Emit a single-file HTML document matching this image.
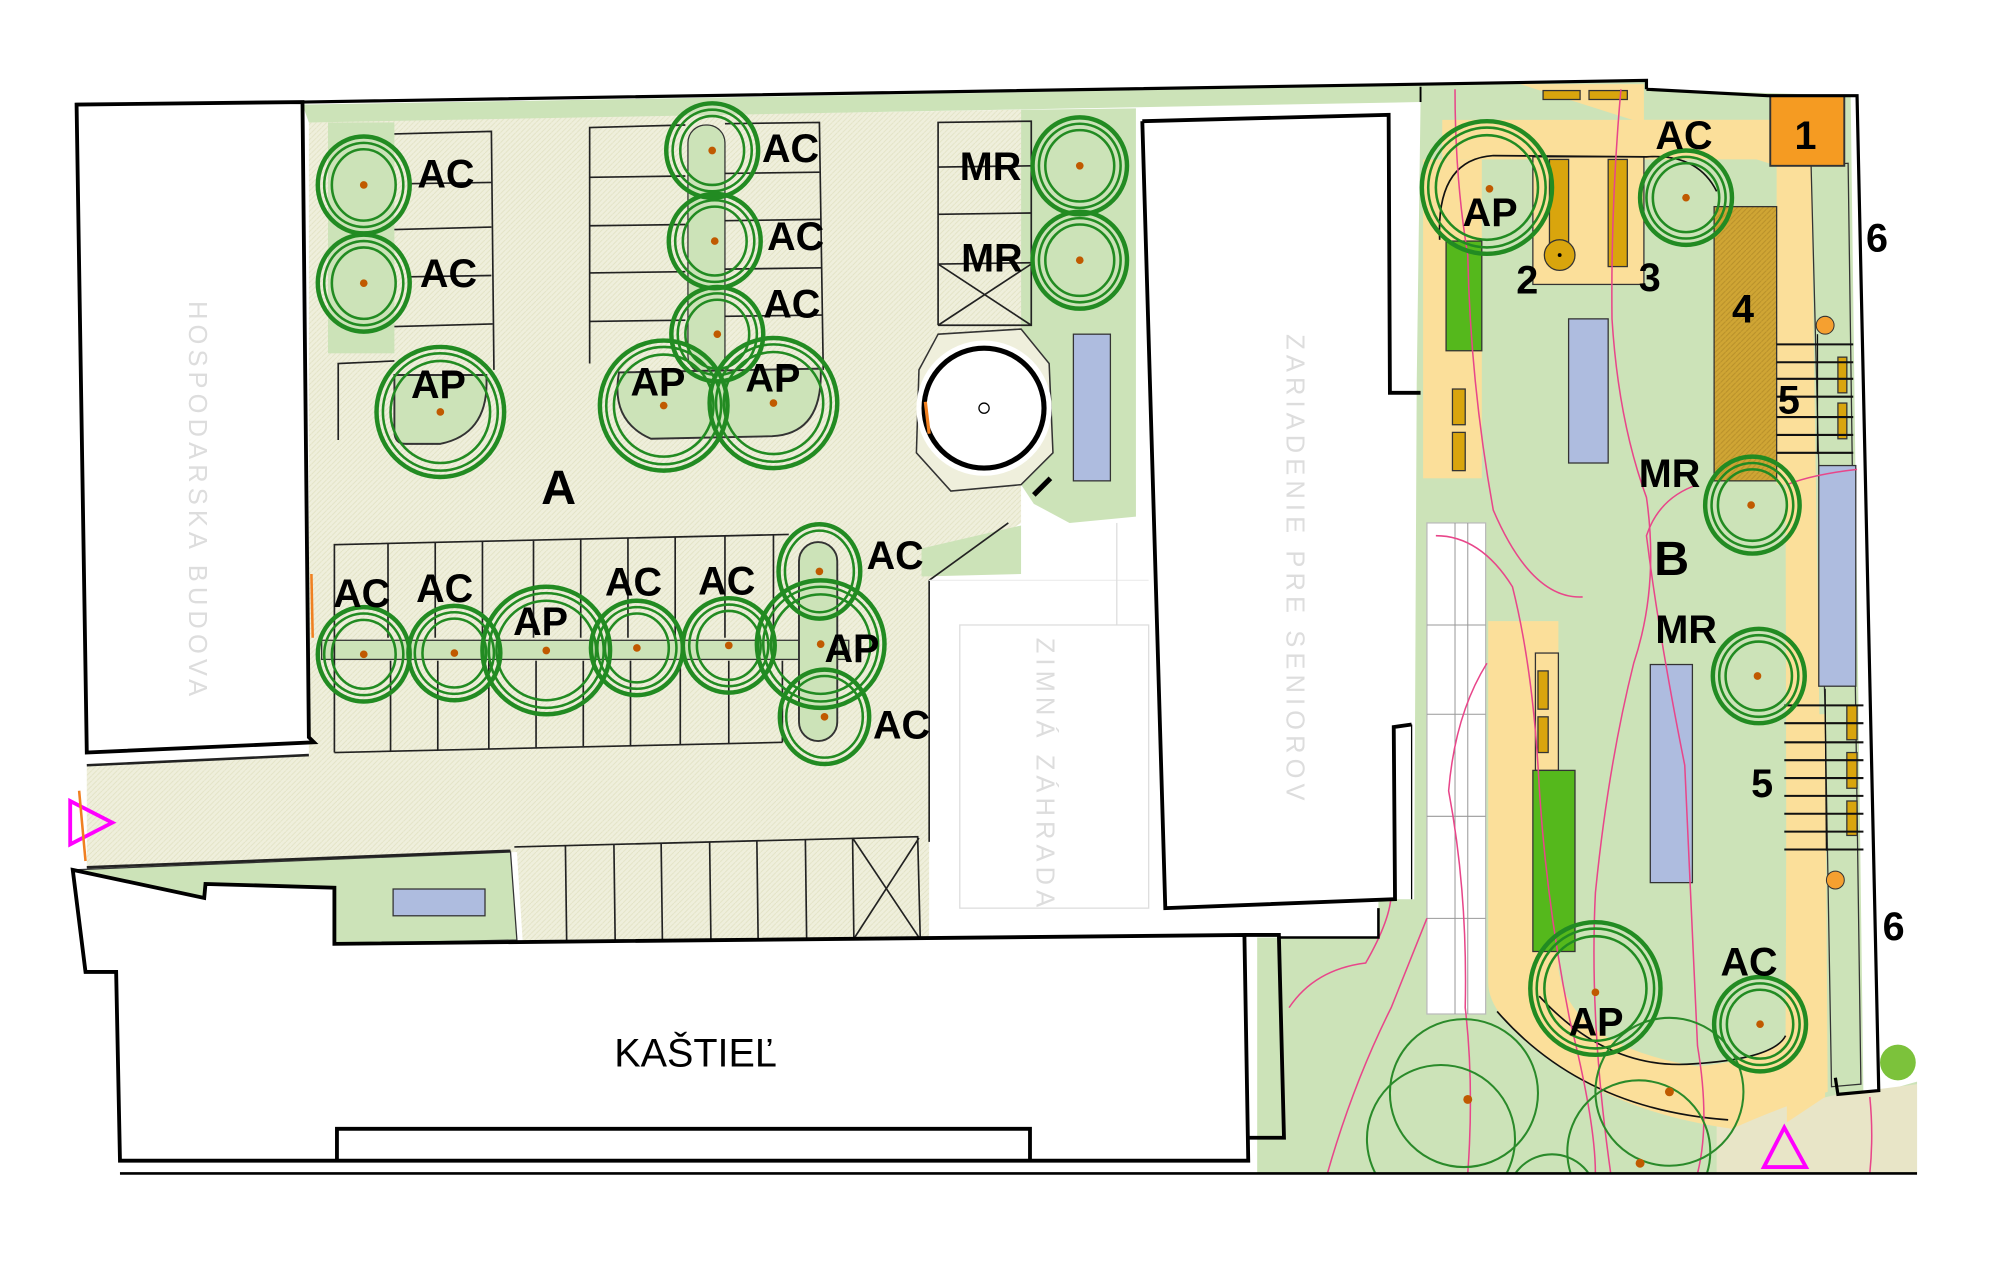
<!DOCTYPE html>
<html><head><meta charset="utf-8"><style>
html,body{margin:0;padding:0;background:#fff;}
svg{display:block;}
.l{font-family:"Liberation Sans",sans-serif;font-weight:bold;font-size:31px;fill:#000;}
.g{font-family:"Liberation Sans",sans-serif;font-size:20px;fill:#ddd;letter-spacing:4px;}
</style></head><body>
<svg width="2000" height="1264" viewBox="0 0 1567 991" preserveAspectRatio="none" xmlns="http://www.w3.org/2000/svg">
<defs>
<pattern id="hb" width="4" height="4" patternUnits="userSpaceOnUse"><rect width="4" height="4" fill="#efefdc"/><path d="M0 4L4 0" stroke="#e2e2c4" stroke-width="0.7"/></pattern>
<pattern id="br" width="4" height="4" patternUnits="userSpaceOnUse"><rect width="4" height="4" fill="#cfa534"/><path d="M0 4L4 0" stroke="#b8902a" stroke-width="0.8"/></pattern>
<clipPath id="cb"><rect x="0" y="0" width="1550" height="920"/></clipPath>
</defs>

<polygon points="68,600 242,592 242,95 800,86 800,410 728,455 728,745 410,745 405,668 68,680" fill="url(#hb)"/>
<polygon points="237,82 1113,67 1113,80 242,96" fill="#cce3b8"/>
<polygon points="800,86 890,85 890,405 838,410 810,395 800,380" fill="#cce3b8"/>
<polygon points="722,430 800,412 800,450 722,452" fill="#cce3b8"/>
<polygon points="57,682 400,668 405,737 262,740 262,696 161,693 160,704" fill="#cce3b8" stroke="#333" stroke-width="1"/>
<rect x="308" y="697" width="72" height="21" fill="#aebcdf" stroke="#333" stroke-width="1"/>
<rect x="257" y="96" width="52" height="181" fill="#cce3b8"/>
<rect x="539" y="98" width="29" height="195" rx="14" fill="#cce3b8" stroke="#333" stroke-width="1"/>
<path d="M309,294 L381,294 Q384,340 345,348 L318,348 Q309,348 309,338 Z" fill="#cce3b8" stroke="#333" stroke-width="1.5"/>
<path d="M485,292 L643,289 Q645,340 605,342 L510,344 Q478,330 485,292 Z" fill="#cce3b8" stroke="#333" stroke-width="1.5"/>
<rect x="252" y="502" width="413" height="15" fill="#cce3b8" stroke="#333" stroke-width="1"/>
<rect x="626" y="425" width="30" height="156" rx="15" fill="#cce3b8" stroke="#333" stroke-width="1.5"/>

<g stroke="#222" stroke-width="1.3" fill="none">
<polyline points="309,105 385,103 387,290"/>
<line x1="309" y1="180" x2="385" y2="178"/><line x1="309" y1="256" x2="386" y2="254"/>
<line x1="320" y1="144" x2="385" y2="143"/><line x1="320" y1="217" x2="385" y2="216"/>
<polyline points="462,285 462,100 537,98"/>
<line x1="462" y1="139" x2="537" y2="138"/><line x1="462" y1="177" x2="537" y2="176"/><line x1="462" y1="214" x2="537" y2="213"/><line x1="462" y1="252" x2="537" y2="251"/>
<polyline points="568,97 642,96 645,290"/>
<line x1="568" y1="136" x2="642" y2="135"/><line x1="568" y1="173" x2="643" y2="172"/><line x1="568" y1="211" x2="644" y2="210"/><line x1="568" y1="248" x2="644" y2="247"/>
<polyline points="735,255 735,96 808,95 808,255 735,255"/>
<line x1="735" y1="131" x2="808" y2="130"/><line x1="735" y1="168" x2="808" y2="167"/><line x1="735" y1="207" x2="808" y2="206"/>
<line x1="735" y1="207" x2="808" y2="255"/><line x1="808" y1="207" x2="735" y2="255"/>
<polyline points="265,345 265,285 309,283"/>
<polyline points="262,590 262,427 618,419"/>
<line x1="262" y1="590" x2="613" y2="582"/>
<line x1="304" y1="426" x2="304" y2="500"/><line x1="341" y1="425" x2="341" y2="500"/><line x1="378" y1="424" x2="378" y2="500"/><line x1="418" y1="424" x2="418" y2="500"/><line x1="455" y1="423" x2="455" y2="500"/><line x1="492" y1="422" x2="492" y2="500"/><line x1="529" y1="421" x2="529" y2="500"/><line x1="568" y1="420" x2="568" y2="500"/><line x1="606" y1="419" x2="606" y2="500"/>
<line x1="306" y1="518" x2="306" y2="589"/><line x1="343" y1="518" x2="343" y2="588"/><line x1="383" y1="518" x2="383" y2="587"/><line x1="420" y1="518" x2="420" y2="586"/><line x1="457" y1="518" x2="457" y2="585"/><line x1="494" y1="518" x2="494" y2="585"/><line x1="533" y1="518" x2="533" y2="584"/><line x1="571" y1="518" x2="571" y2="583"/><line x1="613" y1="518" x2="613" y2="582"/>
<polyline points="403,664 719,656 721,735 405,740"/>
<line x1="443" y1="663" x2="444" y2="739"/><line x1="481" y1="662" x2="482" y2="739"/><line x1="518" y1="661" x2="519" y2="738"/><line x1="556" y1="660" x2="557" y2="737"/><line x1="593" y1="659" x2="594" y2="737"/><line x1="631" y1="658" x2="632" y2="736"/><line x1="668" y1="657" x2="669" y2="736"/>
<line x1="668" y1="657" x2="720" y2="735"/><line x1="720" y1="657" x2="669" y2="736"/>
<line x1="68" y1="600" x2="242" y2="592" stroke-width="2"/>
<line x1="68" y1="680" x2="400" y2="667" stroke-width="2"/>
<line x1="728" y1="455" x2="728" y2="660"/>
<line x1="728" y1="455" x2="790" y2="410"/>
</g>

<polygon points="735,262 800,258 822,285 825,355 800,380 745,385 718,355 720,290" fill="#efefdc" stroke="#333" stroke-width="1.2"/>
<circle cx="771" cy="320" r="53" fill="#fff"/>
<circle cx="771" cy="320" r="47" fill="#fff" stroke="#000" stroke-width="4"/>
<circle cx="771" cy="320" r="4" fill="#fff" stroke="#000" stroke-width="1"/>
<line x1="725" y1="315" x2="728" y2="340" stroke="#f08020" stroke-width="2.5"/>
<line x1="810" y1="388" x2="823" y2="375" stroke="#000" stroke-width="4"/>
<rect x="841" y="262" width="29" height="115" fill="#aebcdf" stroke="#333" stroke-width="1"/>

<rect x="752" y="490" width="148" height="222" fill="#fff" stroke="#ddd" stroke-width="1"/>
<line x1="728" y1="455" x2="900" y2="455" stroke="#eee"/>
<line x1="875" y1="410" x2="875" y2="490" stroke="#ddd"/>
<text class="g" transform="translate(812,500) rotate(90)">ZIMNÁ ZÁHRADA</text>

<polygon points="1113,67 1290,63 1290,70 1450,75 1460,860 1502,848 1502,920 985,920 985,735 1080,735 1080,705 1108,705 1110,300 1113,80" fill="#cce3b8"/>
<polygon points="1345,880 1440,858 1502,850 1502,920 1345,920" fill="#e8e5c7"/>
<polygon points="1191,66 1288,66 1288,94 1389,94 1392,125 1392,380 1403,380 1403,125 1419,125 1419,130 1392,130" fill="#fbdf9a"/>
<polygon points="1130,94 1389,94 1389,125 1130,125" fill="#fbdf9a"/>
<rect x="1201" y="123" width="87" height="100" fill="#fbdf9a" stroke="#333" stroke-width="1"/>
<rect x="1115" y="125" width="46" height="250" fill="#fbdf9a"/>
<polygon points="1392,125 1419,130 1430,860 1400,880 1399,380" fill="#fbdf9a"/>
<path d="M1166,487 L1221,487 L1221,760 Q1230,820 1330,836 Q1390,830 1399,812 L1400,560 L1430,560 L1432,856 Q1390,870 1357,885 Q1250,870 1190,810 Q1166,790 1166,770 Z" fill="#fbdf9a"/>
<rect x="1203" y="512" width="18" height="92" fill="#fbdf9a" stroke="#333" stroke-width="1"/>
<polygon points="1419,130 1448,128 1458,850 1435,852 1430,560" fill="#cce3b8" stroke="#333" stroke-width="1"/>
<rect x="1118" y="410" width="46" height="385" fill="#fff" stroke="#bbb" stroke-width="1"/>
<g stroke="#999" stroke-width="0.8"><line x1="1140" y1="410" x2="1140" y2="795"/><line x1="1150" y1="410" x2="1150" y2="795"/><line x1="1118" y1="490" x2="1164" y2="490"/><line x1="1118" y1="560" x2="1164" y2="560"/><line x1="1118" y1="640" x2="1164" y2="640"/><line x1="1118" y1="720" x2="1164" y2="720"/></g>
<g fill="#d9a50d" stroke="#333" stroke-width="1">
<rect x="1209" y="71" width="29" height="7"/><rect x="1245" y="71" width="30" height="7"/>
<rect x="1214" y="125" width="15" height="75"/><circle cx="1222" cy="200" r="12"/>
<rect x="1260" y="125" width="15" height="84"/>
<rect x="1138" y="305" width="10" height="28"/><rect x="1138" y="339" width="10" height="30"/>
<rect x="1205" y="526" width="8" height="30"/><rect x="1205" y="562" width="8" height="28"/>
<rect x="1440" y="280" width="7" height="28"/><rect x="1440" y="316" width="7" height="28"/>
<rect x="1447" y="553" width="8" height="27"/><rect x="1447" y="590" width="8" height="28"/><rect x="1447" y="628" width="8" height="27"/>
</g>
<circle cx="1222" cy="200" r="1.5" fill="#000"/>
<rect x="1133" y="189" width="28" height="86" fill="#55b81c" stroke="#333" stroke-width="1"/>
<rect x="1201" y="604" width="33" height="142" fill="#55b81c" stroke="#333" stroke-width="1"/>
<rect x="1343" y="162" width="49" height="215" fill="url(#br)" stroke="#333" stroke-width="1"/>
<rect x="1387" y="75" width="58" height="55" fill="#f59b22" stroke="#333" stroke-width="1.5"/>
<g stroke="#111" stroke-width="1.6">
<line x1="1392" y1="270" x2="1452" y2="270"/><line x1="1392" y1="284" x2="1452" y2="284"/><line x1="1392" y1="297" x2="1452" y2="297"/><line x1="1392" y1="311" x2="1452" y2="311"/><line x1="1392" y1="327" x2="1452" y2="327"/><line x1="1392" y1="341" x2="1452" y2="341"/><line x1="1392" y1="355" x2="1452" y2="355"/>
<line x1="1424" y1="262" x2="1424" y2="356" stroke-width="1"/>
<line x1="1398" y1="553" x2="1460" y2="553"/><line x1="1398" y1="567" x2="1460" y2="567"/><line x1="1398" y1="582" x2="1460" y2="582"/><line x1="1398" y1="596" x2="1460" y2="596"/><line x1="1398" y1="610" x2="1460" y2="610"/><line x1="1398" y1="624" x2="1460" y2="624"/><line x1="1398" y1="638" x2="1460" y2="638"/><line x1="1398" y1="652" x2="1460" y2="652"/><line x1="1398" y1="666" x2="1460" y2="666"/>
<line x1="1430" y1="540" x2="1431" y2="667" stroke-width="1"/>
</g>
<g fill="#aebcdf" stroke="#333" stroke-width="1">
<rect x="1229" y="250" width="31" height="113"/>
<rect x="1293" y="521" width="33" height="171"/>
<rect x="1425" y="365" width="29" height="173"/>
</g>
<circle cx="1430" cy="255" r="7" fill="#f5a030" stroke="#333" stroke-width="0.8"/>
<circle cx="1438" cy="690" r="7" fill="#f5a030" stroke="#333" stroke-width="0.8"/>
<circle cx="1487" cy="833" r="14" fill="#7cc23b"/>
<g fill="none" stroke="#111" stroke-width="1.3">
<path d="M1128,188 Q1125,125 1170,122 L1290,123 Q1330,120 1345,150"/>
<path d="M1206,781 Q1260,840 1328,834 Q1390,830 1399,812"/>
<path d="M1173,793 Q1240,870 1354,878"/>
</g>
<g fill="none" stroke="#e8468a" stroke-width="1.2" clip-path="url(#cb)">
<path d="M1270,70 Q1262,160 1263,250 Q1268,330 1290,390 Q1300,460 1280,520 Q1260,600 1250,700 Q1245,800 1262,920"/>
<path d="M1140,70 Q1140,140 1150,200 Q1152,300 1170,400 Q1200,470 1240,468"/>
<path d="M1125,420 Q1160,420 1185,460 Q1200,520 1205,600 Q1210,700 1230,800 Q1250,880 1250,920"/>
<path d="M1165,520 Q1140,560 1135,620 Q1150,700 1148,790 Q1155,850 1150,920"/>
<path d="M1330,380 Q1300,390 1290,420 Q1300,500 1320,600 Q1325,700 1330,820 Q1340,880 1330,920"/>
<path d="M1010,790 Q1030,760 1070,755 Q1090,720 1090,700"/>
<path d="M1040,920 Q1060,850 1090,790 Q1110,740 1118,720"/>
<path d="M1400,380 Q1420,372 1455,368"/>
<path d="M1465,860 Q1468,890 1465,920"/>
</g>
<g fill="none" stroke="#2a8a2a" stroke-width="1.6" clip-path="url(#cb)">
<circle cx="1147" cy="857" r="58"/><circle cx="1129" cy="893" r="58"/>
<circle cx="1308" cy="856" r="58"/><circle cx="1284" cy="903" r="56"/>
<circle cx="1216" cy="940" r="35"/>
</g>
<g fill="#c05a00"><circle cx="1150" cy="862" r="3.5"/><circle cx="1308" cy="856" r="3.5"/><circle cx="1285" cy="912" r="3.5"/></g>

<polygon points="60,82 237,80 242,578 246,582 68,590" fill="#fff" stroke="#000" stroke-width="3"/>
<line x1="244" y1="450" x2="245" y2="500" stroke="#f08020" stroke-width="2"/>
<text class="g" transform="translate(148,236) rotate(90)">HOSPODARSKA BUDOVA</text>
<polygon points="895,95 1088,90 1089,308 1104,308 1106,568 1092,570 1093,705 913,712" fill="#fff"/>
<polyline points="895,95 1088,90 1089,308 1113,308" fill="none" stroke="#000" stroke-width="3"/>
<polyline points="1106,568 1092,570 1093,705 913,712 895,95" fill="none" stroke="#000" stroke-width="3"/>
<line x1="1106" y1="568" x2="1106" y2="705" stroke="#000" stroke-width="1"/>
<text class="g" transform="translate(1008,262) rotate(90)">ZARIADENIE PRE SENIOROV</text>
<polygon points="57,682 160,704 161,693 262,696 262,740 975,733 978,910 94,910 91,762 67,762" fill="#fff" stroke="#000" stroke-width="3"/>
<polyline points="264,910 264,885 807,885 807,910" fill="none" stroke="#000" stroke-width="3"/>
<polyline points="975,733 1002,733 1006,892 978,892" fill="none" stroke="#000" stroke-width="3"/>
<polyline points="1002,735 1080,735 1080,712" fill="none" stroke="#000" stroke-width="2"/>
<text x="545" y="836" font-family="Liberation Sans, sans-serif" font-size="31" text-anchor="middle" fill="#000">KAŠTIEĽ</text>
<line x1="94" y1="920" x2="1502" y2="920" stroke="#000" stroke-width="2"/>
<polyline points="237,80 1113,66 1290,63 1290,70" fill="none" stroke="#000" stroke-width="2.5"/>
<polyline points="1290,70 1385,75 1455,75 1472,855 1440,858 1438,845" fill="none" stroke="#000" stroke-width="2.5"/>
<line x1="1113" y1="68" x2="1113" y2="80" stroke="#000" stroke-width="1.5"/>
<polygon points="55,628 55,662 88,645" fill="none" stroke="#ff00ff" stroke-width="3"/>
<line x1="62" y1="620" x2="67" y2="675" stroke="#f08020" stroke-width="2"/>
<polygon points="1382,915 1415,915 1398,884" fill="none" stroke="#ff00ff" stroke-width="3"/>

<g fill="none" stroke="#228b22">
<g stroke-width="3.5">
<ellipse cx="285" cy="145" rx="36" ry="38"/><ellipse cx="285" cy="222" rx="36" ry="38"/>
<ellipse cx="558" cy="118" rx="36" ry="37"/><ellipse cx="560" cy="189" rx="36" ry="37"/><ellipse cx="562" cy="262" rx="36" ry="37"/>
<ellipse cx="846" cy="130" rx="37" ry="38"/><ellipse cx="846" cy="204" rx="37" ry="38"/>
<ellipse cx="285" cy="513" rx="36" ry="37"/><ellipse cx="356" cy="512" rx="36" ry="37"/><ellipse cx="499" cy="508" rx="36" ry="37"/><ellipse cx="571" cy="506" rx="36" ry="37"/>
<ellipse cx="642" cy="448" rx="32" ry="37"/><ellipse cx="646" cy="562" rx="35" ry="37"/>
<ellipse cx="1321" cy="155" rx="36" ry="37"/><ellipse cx="1373" cy="396" rx="37" ry="38"/><ellipse cx="1378" cy="530" rx="36" ry="37"/><ellipse cx="1379" cy="803" rx="36" ry="37"/>
<ellipse cx="345" cy="323" rx="50" ry="51"/><ellipse cx="520" cy="318" rx="50" ry="51"/><ellipse cx="606" cy="316" rx="50" ry="51"/>
<ellipse cx="428" cy="510" rx="50" ry="50"/><ellipse cx="643" cy="505" rx="50" ry="50"/>
<ellipse cx="1165" cy="147" rx="51" ry="52"/><ellipse cx="1250" cy="775" rx="51" ry="52"/>
</g>
<g stroke-width="2">
<ellipse cx="285" cy="145" rx="31" ry="33"/><ellipse cx="285" cy="222" rx="31" ry="33"/>
<ellipse cx="558" cy="118" rx="31" ry="32"/><ellipse cx="560" cy="189" rx="31" ry="32"/><ellipse cx="562" cy="262" rx="31" ry="32"/>
<ellipse cx="846" cy="130" rx="32" ry="33"/><ellipse cx="846" cy="204" rx="32" ry="33"/>
<ellipse cx="285" cy="513" rx="31" ry="32"/><ellipse cx="356" cy="512" rx="31" ry="32"/><ellipse cx="499" cy="508" rx="31" ry="32"/><ellipse cx="571" cy="506" rx="31" ry="32"/>
<ellipse cx="642" cy="448" rx="27" ry="32"/><ellipse cx="646" cy="562" rx="30" ry="32"/>
<ellipse cx="1321" cy="155" rx="31" ry="32"/><ellipse cx="1373" cy="396" rx="32" ry="33"/><ellipse cx="1378" cy="530" rx="31" ry="32"/><ellipse cx="1379" cy="803" rx="31" ry="32"/>
<ellipse cx="345" cy="323" rx="45" ry="46"/><ellipse cx="520" cy="318" rx="45" ry="46"/><ellipse cx="606" cy="316" rx="45" ry="46"/>
<ellipse cx="428" cy="510" rx="45" ry="45"/><ellipse cx="643" cy="505" rx="45" ry="45"/>
<ellipse cx="1165" cy="147" rx="46" ry="47"/><ellipse cx="1250" cy="775" rx="46" ry="47"/>
<ellipse cx="285" cy="145" rx="25" ry="28"/><ellipse cx="285" cy="222" rx="25" ry="28"/>
<ellipse cx="558" cy="118" rx="25" ry="27"/><ellipse cx="560" cy="189" rx="25" ry="27"/><ellipse cx="562" cy="262" rx="25" ry="27"/>
<ellipse cx="846" cy="130" rx="27" ry="28"/><ellipse cx="846" cy="204" rx="27" ry="28"/>
<ellipse cx="285" cy="513" rx="25" ry="27"/><ellipse cx="356" cy="512" rx="25" ry="27"/><ellipse cx="499" cy="508" rx="25" ry="27"/><ellipse cx="571" cy="506" rx="25" ry="27"/>
<ellipse cx="1321" cy="155" rx="26" ry="27"/><ellipse cx="1373" cy="396" rx="27" ry="28"/><ellipse cx="1378" cy="530" rx="26" ry="27"/><ellipse cx="1379" cy="803" rx="26" ry="27"/>
<ellipse cx="345" cy="323" rx="39" ry="40"/><ellipse cx="520" cy="318" rx="39" ry="40"/><ellipse cx="606" cy="316" rx="39" ry="40"/>
<ellipse cx="428" cy="510" rx="39" ry="39"/><ellipse cx="643" cy="505" rx="39" ry="39"/>
<ellipse cx="1165" cy="147" rx="40" ry="41"/><ellipse cx="1250" cy="775" rx="40" ry="41"/>
</g>
</g>
<g fill="#c05a00">
<circle cx="285" cy="145" r="3"/><circle cx="285" cy="222" r="3"/><circle cx="558" cy="118" r="3"/><circle cx="560" cy="189" r="3"/><circle cx="562" cy="262" r="3"/>
<circle cx="846" cy="130" r="3"/><circle cx="846" cy="204" r="3"/><circle cx="285" cy="513" r="3"/><circle cx="356" cy="512" r="3"/><circle cx="499" cy="508" r="3"/><circle cx="571" cy="506" r="3"/>
<circle cx="642" cy="448" r="3"/><circle cx="646" cy="562" r="3"/><circle cx="1321" cy="155" r="3"/><circle cx="1372" cy="396" r="3"/><circle cx="1377" cy="530" r="3"/><circle cx="1379" cy="803" r="3"/>
<circle cx="345" cy="323" r="3"/><circle cx="520" cy="318" r="3"/><circle cx="606" cy="316" r="3"/><circle cx="428" cy="510" r="3"/><circle cx="643" cy="505" r="3"/>
<circle cx="1167" cy="148" r="3"/><circle cx="1250" cy="778" r="3"/>
</g>

<g class="l">
<text x="327" y="147">AC</text><text x="329" y="225">AC</text><text x="322" y="312">AP</text>
<text x="597" y="127">AC</text><text x="601" y="196">AC</text><text x="598" y="249">AC</text>
<text x="494" y="310">AP</text><text x="584" y="307">AP</text>
<text x="752" y="141">MR</text><text x="753" y="213">MR</text>
<text x="424" y="395" style="font-size:38px">A</text>
<text x="261" y="476">AC</text><text x="326" y="472">AC</text><text x="402" y="498">AP</text><text x="474" y="467">AC</text><text x="547" y="466">AC</text>
<text x="679" y="446">AC</text><text x="646" y="519">AP</text><text x="684" y="579">AC</text>
<text x="1146" y="177">AP</text><text x="1297" y="117">AC</text>
<text x="1188" y="230">2</text><text x="1284" y="228">3</text><text x="1357" y="253">4</text>
<text x="1406" y="117">1</text><text x="1462" y="197">6</text><text x="1393" y="324">5</text>
<text x="1284" y="382">MR</text><text x="1296" y="451" style="font-size:38px">B</text><text x="1297" y="504">MR</text>
<text x="1372" y="625">5</text><text x="1475" y="737">6</text>
<text x="1348" y="765">AC</text><text x="1229" y="812">AP</text>
</g>
</svg>
</body></html>
